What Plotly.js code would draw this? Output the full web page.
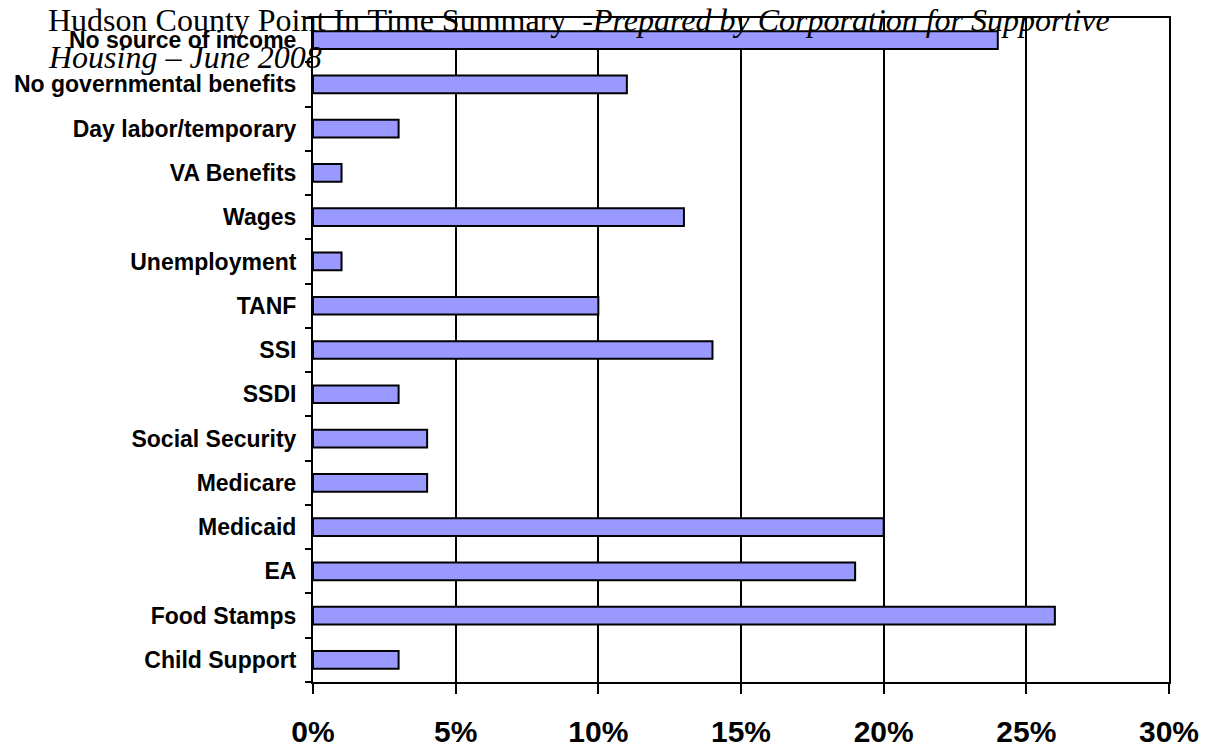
<!DOCTYPE html>
<html>
<head>
<meta charset="utf-8">
<script src="https://cdn.plot.ly/plotly-3.0.1.min.js"></script>
<style>
html, body { margin: 0; padding: 0; background: #fff; }
#chart { width: 1207px; height: 751px; }
</style>
</head>
<body>
<div id="chart"></div>
<script>
// Categories, bottom to top
const categories = [
  "Child Support",
  "Food Stamps",
  "EA",
  "Medicaid",
  "Medicare",
  "Social Security",
  "SSDI",
  "SSI",
  "TANF",
  "Unemployment",
  "Wages",
  "VA Benefits",
  "Day labor/temporary",
  "No governmental benefits",
  "No source of income"
];
// Percent of respondents
const percentValues = [3, 26, 19, 20, 4, 4, 3, 14, 10, 1, 13, 1, 3, 11, 24];
const xTickValues = [0, 5, 10, 15, 20, 25, 30];
const xTickLabels = ["0%", "5%", "10%", "15%", "20%", "25%", "30%"];
const titleLine1 = "Hudson County Point In Time Summary  -<i>Prepared by Corporation for Supportive</i>";
const titleLine2 = "<i>Housing \u2013 June 2008</i>";

const W = 1207, H = 751;
const M = { l: 313, r: 38, t: 18, b: 69 };
const plotW = W - M.l - M.r, plotH = H - M.t - M.b;
const px2x = p => (p - M.l) / plotW;
const py2y = p => 1 - (p - M.t) / plotH;
const titleFont = { family: "Liberation Serif, Times New Roman, serif", size: 32, color: "#000000" };

const trace = {
  type: "bar",
  orientation: "h",
  y: categories,
  x: percentValues,
  marker: { color: "#9999FF", line: { color: "#000000", width: 2 } },
  hoverinfo: "x+y"
};

const layout = {
  width: W,
  height: H,
  margin: { l: M.l, r: M.r, t: M.t, b: M.b, pad: 0 },
  paper_bgcolor: "#ffffff",
  plot_bgcolor: "#ffffff",
  showlegend: false,
  bargap: 0.6,
  annotations: [
    {
      text: titleLine1, showarrow: false,
      xref: "paper", yref: "paper",
      x: px2x(46), xanchor: "left",
      y: py2y(20), yanchor: "middle",
      align: "left", font: titleFont
    },
    {
      text: titleLine2, showarrow: false,
      xref: "paper", yref: "paper",
      x: px2x(46), xanchor: "left",
      y: py2y(57), yanchor: "middle",
      align: "left", font: titleFont
    }
  ],
  xaxis: {
    range: [0, 30],
    tickmode: "array",
    tickvals: xTickValues,
    ticktext: xTickLabels,
    showgrid: true,
    gridcolor: "#000000",
    gridwidth: 2,
    zeroline: false,
    showline: true,
    linecolor: "#000000",
    linewidth: 2,
    mirror: true,
    ticks: "outside",
    ticklen: 10,
    tickwidth: 2,
    tickcolor: "#000000",
    ticklabelstandoff: 12,
    tickfont: { family: "Liberation Sans, Arial, sans-serif", size: 30, color: "#000000", weight: "bold" },
    fixedrange: true
  },
  yaxis: {
    type: "category",
    categoryorder: "array",
    categoryarray: categories,
    range: [-0.5, categories.length - 0.5],
    showgrid: false,
    zeroline: false,
    showline: true,
    linecolor: "#000000",
    linewidth: 2,
    mirror: true,
    ticks: "outside",
    tickson: "boundaries",
    ticklen: 6,
    tickwidth: 2,
    tickcolor: "#000000",
    ticklabelstandoff: 10,
    tickfont: { family: "Liberation Sans, Arial, sans-serif", size: 23, color: "#000000", weight: "bold" },
    fixedrange: true
  }
};

Plotly.newPlot("chart", [trace], layout, { displayModeBar: false, staticPlot: true });
</script>
</body>
</html>
